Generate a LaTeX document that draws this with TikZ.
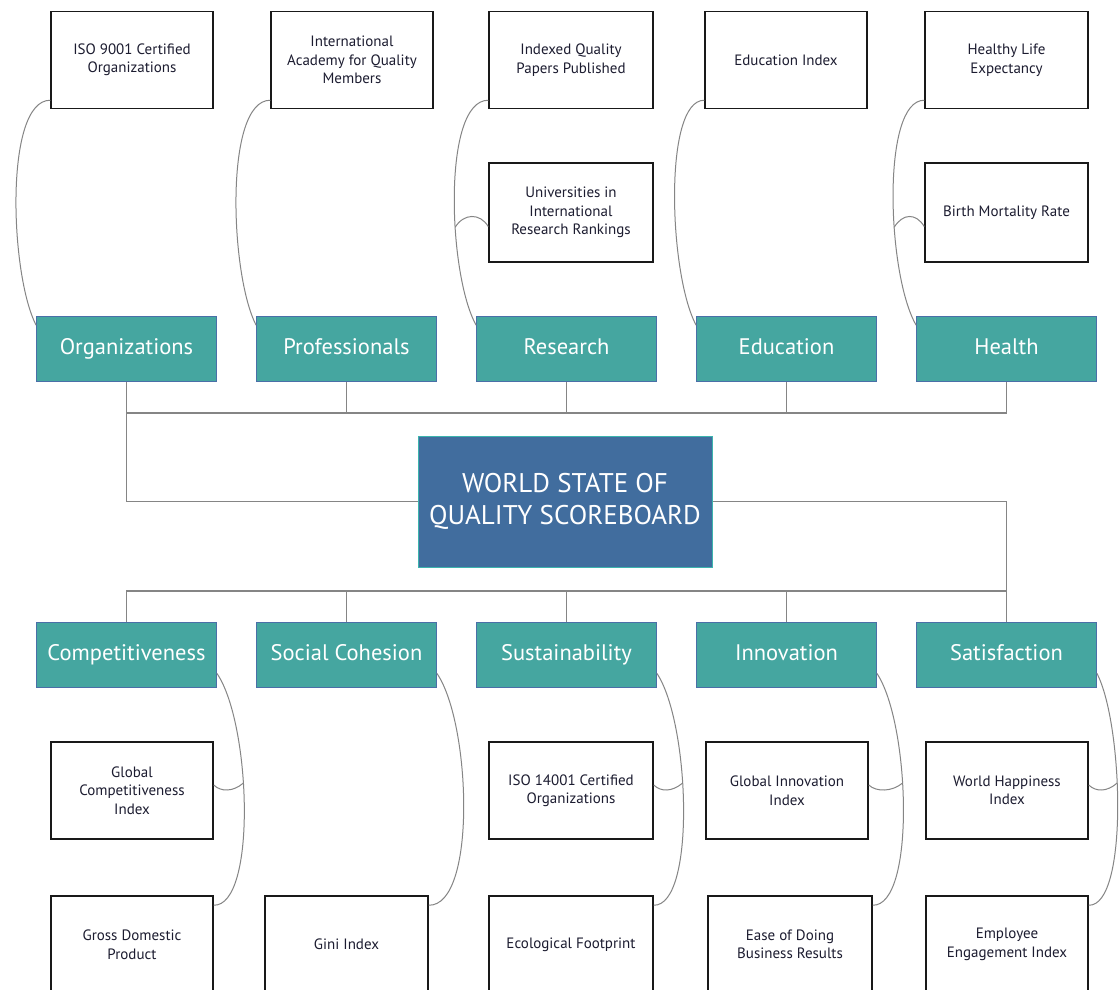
\documentclass[tikz,border=0pt]{standalone}
\usepackage{fontspec}
\setmainfont{PT Sans}
\definecolor{tealf}{HTML}{45A6A0}
\definecolor{tealb}{HTML}{4A6FA8}
\definecolor{mainf}{HTML}{416D9E}
\definecolor{mainb}{HTML}{3CB4AE}
\definecolor{linec}{HTML}{858585}
\definecolor{txt}{HTML}{1C1C30}
\begin{document}
\begin{tikzpicture}[x=1pt,y=-1pt,
  leaf/.style={draw=black!90, line width=1.5pt, fill=white, minimum height=97pt, inner sep=0pt, align=center,
    text=txt, font=\fontsize{15}{18.5}\selectfont},
  cat/.style={draw=tealb, line width=0.8pt, fill=tealf, minimum width=180pt, minimum height=65pt, inner sep=0pt,
    text height=15.5pt, text depth=4.5pt,
    text=white, font=\fontsize{22.5}{26}\selectfont},
  mainbox/.style={draw=mainb, line width=1pt, fill=mainf, minimum width=294pt, minimum height=131pt, inner sep=0pt,
    align=center, text=white, font=\fontsize{27}{32}\selectfont},
  conn/.style={draw=linec, line width=1.3pt},
  curve/.style={draw=linec, line width=1pt}]
\fill[white] (0,0) rectangle (1120,990);
\useasboundingbox (0,0) rectangle (1120,990);

% top leaves
\node[leaf, minimum width=162pt] (t1) at (132,60) {ISO 9001 Certified\\Organizations};
\node[leaf, minimum width=162pt] (t2) at (352,60) {International\\Academy for Quality\\Members};
\node[leaf, minimum width=164pt] (t3) at (571,60) {Indexed Quality\\Papers Published};
\node[leaf, minimum width=162pt] (t4) at (786,60) {Education Index};
\node[leaf, minimum width=163pt] (t5) at (1006.5,60) {Healthy Life\\Expectancy};
\node[leaf, minimum width=164pt, minimum height=99pt] (t3b) at (571,212.5) {Universities in\\International\\Research Rankings};
\node[leaf, minimum width=163pt, minimum height=99pt] (t5b) at (1006.5,212.5) {Birth Mortality Rate};

% top categories
\node[cat] (c1) at (126.5,349) {Organizations};
\node[cat] (c2) at (346.5,349) {Professionals};
\node[cat] (c3) at (566.5,349) {Research};
\node[cat] (c4) at (786.5,349) {Education};
\node[cat] (c5) at (1006.5,349) {Health};

% central
\node[mainbox] (ws) at (565,501.5) {WORLD STATE OF\\QUALITY SCOREBOARD};

% bottom categories
\node[cat] (k1) at (126.5,654.5) {Competitiveness};
\node[cat] (k2) at (346.5,654.5) {Social Cohesion};
\node[cat] (k3) at (566.5,654.5) {Sustainability};
\node[cat] (k4) at (786.5,654.5) {Innovation};
\node[cat] (k5) at (1006.5,654.5) {Satisfaction};

% bottom leaves
\node[leaf, minimum width=162pt] (b1) at (132,790.5) {Global\\Competitiveness\\Index};
\node[leaf, minimum width=162pt] (b1b) at (132,944.5) {Gross Domestic\\Product};
\node[leaf, minimum width=163pt] (b2b) at (346.5,944.5) {Gini Index};
\node[leaf, minimum width=164pt] (b3) at (571,790.5) {ISO 14001 Certified\\Organizations};
\node[leaf, minimum width=164pt] (b3b) at (571,944.5) {Ecological Footprint};
\node[leaf, minimum width=162pt] (b4) at (787,790.5) {Global Innovation\\Index};
\node[leaf, minimum width=164pt] (b4b) at (790,944.5) {Ease of Doing\\Business Results};
\node[leaf, minimum width=162pt] (b5) at (1007,790.5) {World Happiness\\Index};
\node[leaf, minimum width=162pt] (b5b) at (1007,944.5) {Employee\\Engagement Index};

% tree connectors
\coordinate (tb) at (0,413);
\coordinate (bb) at (0,591);
\draw[conn] (c1.south) -- (c1.south |- tb) -- (c5.south |- tb) -- (c5.south);
\foreach \n in {c2,c3,c4} \draw[conn] (\n.south) -- (\n.south |- tb);
\draw[conn] (c1.south |- tb) |- (ws.west);
\draw[conn] (ws.east) -| (k5.north);
\draw[conn] (k1.north) -- (k1.north |- bb) -- (k5.north |- bb);
\foreach \n in {k2,k3,k4} \draw[conn] (\n.north) -- (\n.north |- bb);

% top curves
\draw[curve] ([yshift=9pt]t1.south west) .. controls (4,100) and (10,275) .. ([yshift=-9pt]c1.north west);
\draw[curve] ([yshift=9pt]t2.south west) .. controls (224,100) and (230,275) .. ([yshift=-9pt]c2.north west);
\draw[curve] ([yshift=9pt]t3.south west) .. controls (442,100) and (448,275) .. ([yshift=-9pt]c3.north west) coordinate[pos=0.61] (j3);
\draw[curve] ([yshift=9pt]t4.south west) .. controls (663,100) and (669,275) .. ([yshift=-9pt]c4.north west);
\draw[curve] ([yshift=9pt]t5.south west) .. controls (881,100) and (887,275) .. ([yshift=-9pt]c5.north west) coordinate[pos=0.61] (j5);
\draw[curve] ([yshift=-14pt]t3b.west) .. controls (480,213) and (464,213) .. (j3);
\draw[curve] ([yshift=-14pt]t5b.west) .. controls (916,213) and (903,213) .. (j5);

% bottom curves
\draw[curve] ([yshift=14pt]k1.south east) .. controls (251,723) and (257,906) .. ([yshift=-10pt]b1b.north east) coordinate[pos=0.42] (q1);
\draw[curve] ([yshift=14pt]k2.south east) .. controls (471,723) and (477,906) .. ([yshift=-10pt]b2b.north east);
\draw[curve] ([yshift=14pt]k3.south east) .. controls (690,723) and (696,906) .. ([yshift=-10pt]b3b.north east) coordinate[pos=0.42] (q3);
\draw[curve] ([yshift=14pt]k4.south east) .. controls (910,723) and (916,906) .. ([yshift=-10pt]b4b.north east) coordinate[pos=0.42] (q4);
\draw[curve] ([yshift=14pt]k5.south east) .. controls (1123,723) and (1129,906) .. ([yshift=-10pt]b5b.north east) coordinate[pos=0.42] (q5);
\draw[curve] ([yshift=5.5pt]b1.east) .. controls (221,792) and (233,792) .. (q1);
\draw[curve] ([yshift=5.5pt]b3.east) .. controls (661,792) and (672,792) .. (q3);
\draw[curve] ([yshift=5.5pt]b4.east) .. controls (876,792) and (892,792) .. (q4);
\draw[curve] ([yshift=5.5pt]b5.east) .. controls (1096,792) and (1107,792) .. (q5);
\end{tikzpicture}
\end{document}
